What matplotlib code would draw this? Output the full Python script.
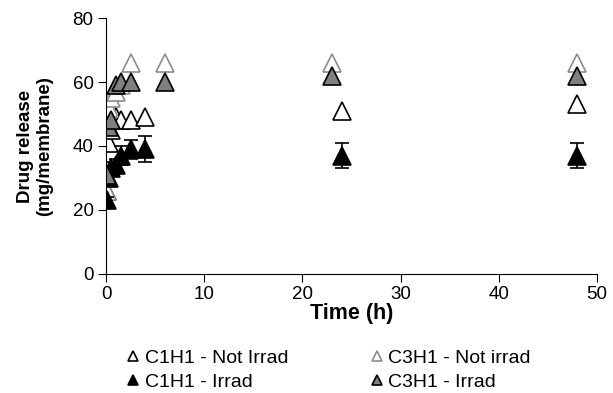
import matplotlib
matplotlib.use("Agg")
import matplotlib.pyplot as plt

plt.rcParams['font.family'] = ['Liberation Sans', 'DejaVu Sans']

# C1H1 - Not Irrad
t_c1_not = [0.083, 0.25, 0.5, 1, 1.5, 2.5, 4, 24, 48]
y_c1_not = [26, 41, 45, 49, 48, 48, 49, 51, 53]

# C1H1 - Irrad
t_c1_irr = [0.083, 0.25, 0.5, 1, 1.5, 2.5, 4, 24, 48]
y_c1_irr = [23, 30, 33, 34, 37, 39, 39, 37, 37]
e_c1_irr = [1, 2, 2, 2, 3, 3, 4, 4, 4]

# C3H1 - Not irrad
t_c3_not = [0.083, 0.25, 0.5, 1, 1.5, 2.5, 6, 23, 48]
y_c3_not = [26, 52, 55, 57, 59, 66, 66, 66, 66]

# C3H1 - Irrad
t_c3_irr = [0.083, 0.25, 0.5, 1, 1.5, 2.5, 6, 23, 48]
y_c3_irr = [31, 46, 48, 59, 60, 60, 60, 62, 62]

fig = plt.figure(figsize=(6.13, 3.93), dpi=100)
ax = fig.add_axes([0.173, 0.303, 0.801, 0.651])

ms = 13
h1, = ax.plot(t_c1_not, y_c1_not, '^', ms=ms, mfc='white', mec='black', mew=1.2, ls='none',
              label='C1H1 - Not Irrad')
h3, = ax.plot(t_c3_not, y_c3_not, '^', ms=ms, mfc='white', mec='#8c8c8c', mew=1.2, ls='none',
              label='C3H1 - Not irrad')
ax.errorbar(t_c1_irr, y_c1_irr, yerr=e_c1_irr, fmt='none', ecolor='black', elinewidth=1.2,
            capsize=5, capthick=1.2)
h2, = ax.plot(t_c1_irr, y_c1_irr, '^', ms=ms, mfc='black', mec='black', mew=1.2, ls='none',
              label='C1H1 - Irrad')
h4, = ax.plot(t_c3_irr, y_c3_irr, '^', ms=ms, mfc='#808080', mec='black', mew=1.2, ls='none',
              label='C3H1 - Irrad')

ax.set_xlim(0, 50)
ax.set_ylim(0, 80)
ax.set_xticks([0, 10, 20, 30, 40, 50])
ax.set_yticks([0, 20, 40, 60, 80])
ax.spines['top'].set_visible(False)
ax.spines['right'].set_visible(False)
ax.tick_params(direction='out', length=6, pad=3, labelsize=13.5)
ax.set_xlabel('Time (h)', fontsize=15.5, fontweight='bold', labelpad=0)
ax.set_ylabel('Drug release\n(mg/membrane)', fontsize=13.5, fontweight='bold', labelpad=14)

leg = fig.legend(handles=[h1, h2, h3, h4], loc='upper left', bbox_to_anchor=(0.176, 0.156),
                 ncol=2, frameon=False, fontsize=14, markerscale=0.55, handletextpad=0.2,
                 columnspacing=4.15, handlelength=0.8, labelspacing=0.35, borderpad=0.4)

fig.savefig('out.png', dpi=100)
